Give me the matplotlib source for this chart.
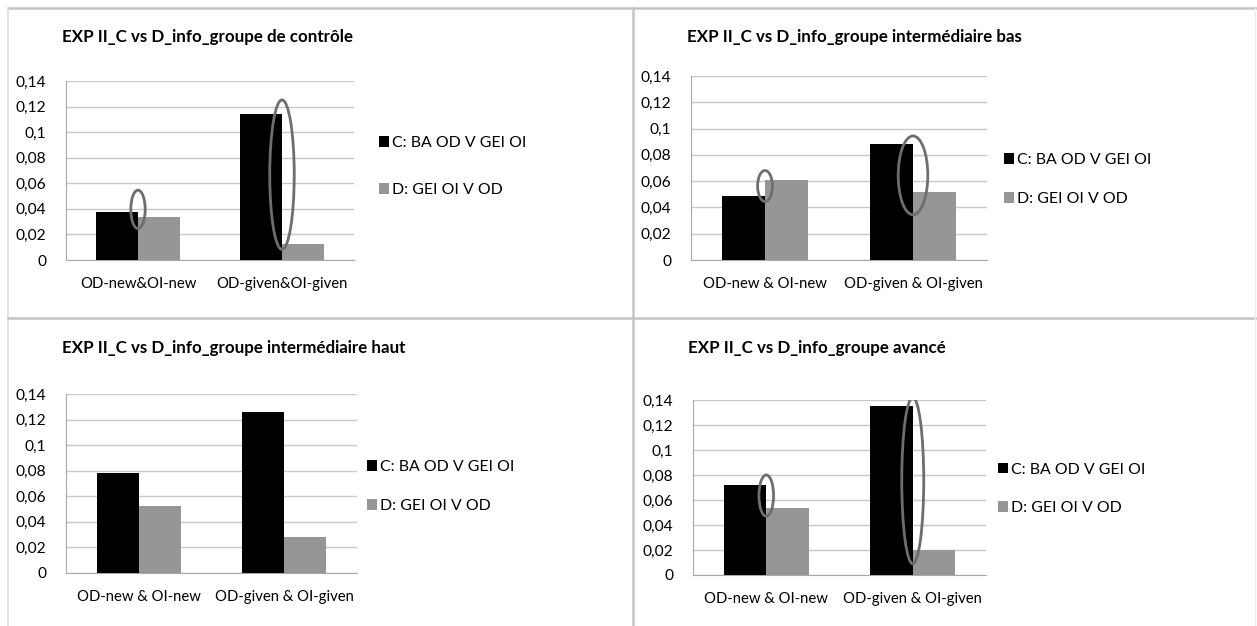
import matplotlib.pyplot as plt
import matplotlib.ticker as mticker
from matplotlib.patches import Ellipse
from matplotlib.lines import Line2D

plt.rcParams['font.family'] = ['Lato', 'DejaVu Sans']

# data
titles = ["EXP II_C vs D_info_groupe de contrôle",
          "EXP II_C vs D_info_groupe intermédiaire bas",
          "EXP II_C vs D_info_groupe intermédiaire haut",
          "EXP II_C vs D_info_groupe avancé"]
categories = [["OD-new&OI-new", "OD-given&OI-given"],
              ["OD-new & OI-new", "OD-given & OI-given"],
              ["OD-new & OI-new", "OD-given & OI-given"],
              ["OD-new & OI-new", "OD-given & OI-given"]]
series_names = ["C: BA OD V GEI OI", "D: GEI OI V OD"]
c_values = [[0.0375, 0.114], [0.049, 0.088], [0.078, 0.126], [0.072, 0.135]]
d_values = [[0.034, 0.0123], [0.061, 0.0515], [0.0527, 0.0282], [0.054, 0.020]]
y_ticks = [0, 0.02, 0.04, 0.06, 0.08, 0.1, 0.12, 0.14]

# highlight ellipses: (category index, center y, width, height)
ellipses = [[(0, 0.0396, 0.10, 0.030), (1, 0.0667, 0.17, 0.117)],
            [(0, 0.0563, 0.10, 0.0236), (1, 0.0644, 0.20, 0.060)],
            [],
            [(0, 0.0635, 0.10, 0.033), (1, 0.0755, 0.15, 0.133)]]

W, H = 1257, 626
fig = plt.figure(figsize=(W / 100, H / 100), dpi=100)

# axes boxes in pixels: left, right, top, bottom
boxes = [(66, 354, 81, 260), (691, 987, 76, 260),
         (66, 357, 394, 573), (693, 986, 400, 575)]
title_pos = [(62, 37), (687, 37), (62, 348), (688, 348)]
legend_pos = [(379, 166.5, 2.1), (1004, 179.5, 1.6), (367, 486.5, 1.6), (998, 489, 1.55)]

def fmt(v, pos):
    s = ("%.2f" % v).rstrip('0').rstrip('.')
    return s.replace('.', ',')

bw = 0.29
for i in range(4):
    l, r, t, b = boxes[i]
    ax = fig.add_axes([l / W, 1 - b / H, (r - l) / W, (b - t) / H])
    x = range(len(categories[i]))
    bc = ax.bar([k - bw / 2 for k in x], c_values[i], bw, color='black', label=series_names[0], zorder=3)
    bd = ax.bar([k + bw / 2 for k in x], d_values[i], bw, color='#969696', label=series_names[1], zorder=3)
    for (k, yc, ew, eh) in ellipses[i]:
        ax.add_patch(Ellipse((k, yc), ew, eh, fill=False, edgecolor='#6e6e6e', lw=2, zorder=4))
    ax.set_xlim(-0.5, 1.5)
    ax.set_ylim(0, 0.14)
    ax.set_yticks(y_ticks)
    ax.yaxis.set_major_formatter(mticker.FuncFormatter(fmt))
    ax.set_xticks(list(x))
    ax.set_xticklabels(categories[i])
    ax.tick_params(axis='y', length=0, pad=14, labelsize=11.2)
    ax.tick_params(axis='x', length=0, pad=12, labelsize=10.7)
    ax.grid(axis='y', color='#c8c8c8', lw=1, zorder=0)
    for s in ['top', 'right']:
        ax.spines[s].set_visible(False)
    ax.spines['left'].set_color('#a8a8a8')
    ax.spines['bottom'].set_color('#a8a8a8')
    tx, ty = title_pos[i]
    fig.text(tx / W, 1 - ty / H, titles[i], fontsize=12.2, fontweight='bold', va='center', ha='left')
    lx, ly, sp = legend_pos[i]
    fig.legend(handles=[bc, bd], loc='center left', bbox_to_anchor=(lx / W, 1 - ly / H),
               frameon=False, fontsize=11.4, handlelength=0.65, handleheight=0.65,
               handletextpad=0.2, borderpad=0, borderaxespad=0, labelspacing=sp)

# panel frame lines
fc = '#c4c4c4'
fig.add_artist(Line2D([8 / W, 1], [1 - 7.5 / H] * 2, color=fc, lw=1.8))
fig.add_artist(Line2D([8 / W] * 2, [0, 1 - 7.5 / H], color='#dedede', lw=1.2))
fig.add_artist(Line2D([633 / W] * 2, [0, 1 - 7.5 / H], color=fc, lw=1.8))
fig.add_artist(Line2D([8 / W, 1], [1 - 318 / H] * 2, color=fc, lw=1.8))
fig.add_artist(Line2D([1255 / W] * 2, [0, 1 - 7.5 / H], color='#ececec', lw=1))

fig.savefig('out.png', dpi=100)
